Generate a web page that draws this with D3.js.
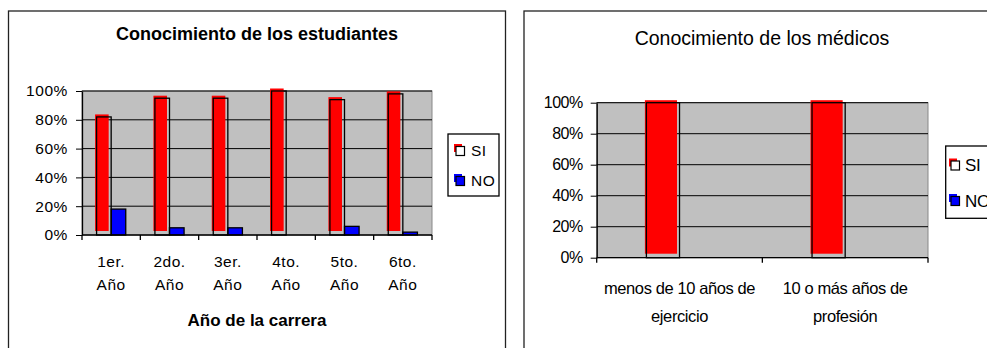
<!DOCTYPE html>
<html>
<head>
<meta charset="utf-8">
<script src="https://cdn.jsdelivr.net/npm/d3@7/dist/d3.min.js"></script>
<style>
body { margin: 0; background: #fff; }
svg { display: block; font-family: "Liberation Sans", Arial, sans-serif; }
.grid { stroke: #000; stroke-width: 1; }
.axis path, .axis line { stroke: #000; }
.axis text { fill: #000; }
</style>
</head>
<body>
<div id="chart"></div>
<script>
/*global d3*/

var series = ["SI", "NO"],
    colors = ["#ff0000", "#0000ff"],
    yTicks = [0, 0.2, 0.4, 0.6, 0.8, 1],

    // chart 1 : estudiantes
    anios = ["1er.|Año", "2do.|Año", "3er.|Año", "4to.|Año", "5to.|Año", "6to.|Año"],
    estudiantesSI = [0.82, 0.95, 0.95, 1.00, 0.94, 0.98],
    estudiantesNO = [0.18, 0.05, 0.05, 0.00, 0.06, 0.02],

    // chart 2 : medicos
    grupos = ["menos de 10 años de|ejercicio", "10 o más años de|profesión"],
    medicosSI = [1.00, 1.00],
    medicosNO = [0.00, 0.00],

    svg = d3.select("#chart")
        .append("svg")
        .attr("width", 987)
        .attr("height", 348);

function panel(o) {
    var g = svg.append("g"),
        x = d3.scaleBand()
            .domain(o.cats)
            .range([o.left, o.right]),
        y = d3.scaleLinear()
            .domain([0, 1])
            .range([o.bottom, o.top]),
        bw = x.bandwidth() * o.barFrac,
        rows = o.cats.map(function (c, i) {
            return {cat: c, values: [o.si[i], o.no[i]]};
        });

    // frame of the chart
    g.append("rect")
        .attr("x", o.box[0])
        .attr("y", o.box[1])
        .attr("width", o.box[2])
        .attr("height", o.box[3])
        .attr("fill", "#fff")
        .attr("stroke", "#222")
        .attr("stroke-width", 1.3);

    g.append("text")
        .attr("x", o.titleX)
        .attr("y", o.titleY)
        .attr("text-anchor", "middle")
        .attr("font-size", o.titleSize)
        .attr("font-weight", o.titleWeight)
        .text(o.title);

    // plot area
    g.append("rect")
        .attr("x", o.left)
        .attr("y", o.top)
        .attr("width", o.right - o.left)
        .attr("height", o.bottom - o.top)
        .attr("fill", "#c0c0c0")
        .attr("stroke", "#888");

    g.append("g").selectAll(".grid")
        .data(yTicks.slice(1))
        .enter().append("line")
        .attr("class", "grid")
        .attr("x1", o.left)
        .attr("x2", o.right)
        .attr("y1", function (d) { return y(d); })
        .attr("y2", function (d) { return y(d); });

    // bars: red fill drawn slightly shifted, as in the original export
    var grp = g.append("g").selectAll("g")
        .data(rows)
        .enter().append("g")
        .attr("transform", function (d) {
            return "translate(" + (x(d.cat) + (x.bandwidth() - 2 * bw) / 2) + ",0)";
        });
    grp.selectAll(".fill")
        .data(function (d) { return d.values; })
        .enter().append("rect")
        .attr("class", "fill")
        .attr("x", function (d, i) { return i * bw + (i === 0 ? -1.5 : 0); })
        .attr("y", function (d, i) { return i === 0 ? y(d) - 2.5 : y(d); })
        .attr("width", function (d, i) { return i === 0 ? bw - 1 : bw; })
        .attr("height", function (d, i) {
            return i === 0 ? Math.max(0, o.bottom - 4 - (y(d) - 2.5)) : o.bottom - y(d);
        })
        .attr("fill", function (d, i) { return colors[i]; });
    grp.selectAll(".edge")
        .data(function (d) { return d.values; })
        .enter().append("rect")
        .attr("class", "edge")
        .attr("x", function (d, i) { return i * bw; })
        .attr("y", function (d) { return y(d); })
        .attr("width", bw)
        .attr("height", function (d) { return o.bottom - y(d); })
        .attr("fill", "none")
        .attr("stroke", "#000")
        .attr("stroke-width", 1.3)
        .style("display", function (d) { return d > 0 ? null : "none"; });

    // y axis
    g.append("g")
        .attr("class", "axis")
        .attr("transform", "translate(" + o.left + ",0)")
        .call(d3.axisLeft(y)
            .tickValues(yTicks)
            .tickFormat(d3.format(".0%"))
            .tickSize(6)
            .tickSizeOuter(0)
            .tickPadding(o.tickPad))
        .call(function (a) {
            a.selectAll("text")
                .attr("font-size", o.tickSize)
                .attr("font-family", null)
                .attr("letter-spacing", o.tickSpacing);
            a.select(".domain").attr("stroke-width", 1.3);
        });

    // x axis with ticks between categories
    g.append("line")
        .attr("x1", o.left)
        .attr("x2", o.right)
        .attr("y1", o.bottom)
        .attr("y2", o.bottom)
        .attr("stroke", "#000")
        .attr("stroke-width", 1.3);
    g.append("g").selectAll("line")
        .data(o.cats.map(function (c) { return x(c); }).concat([o.right]))
        .enter().append("line")
        .attr("x1", function (d) { return d; })
        .attr("x2", function (d) { return d; })
        .attr("y1", o.bottom)
        .attr("y2", o.bottom + 5)
        .attr("stroke", "#000")
        .attr("stroke-width", 1.3);

    var lab = g.append("g").selectAll("text")
        .data(o.cats)
        .enter().append("text")
        .attr("text-anchor", "middle")
        .attr("font-size", o.catSize)
        .attr("letter-spacing", o.catSpacing);
    lab.selectAll("tspan")
        .data(function (d) {
            return d.split("|").map(function (t) { return {t: t, c: d}; });
        })
        .enter().append("tspan")
        .attr("x", function (d) { return x(d.c) + x.bandwidth() / 2; })
        .attr("y", function (d, i) { return o.catY[i]; })
        .text(function (d) { return d.t; });

    if (o.xTitle) {
        g.append("text")
            .attr("x", (o.left + o.right) / 2)
            .attr("y", o.xTitleY)
            .attr("text-anchor", "middle")
            .attr("font-size", 17)
            .attr("font-weight", "bold")
            .text(o.xTitle);
    }

    // legend
    g.append("rect")
        .attr("x", o.legend[0])
        .attr("y", o.legend[1])
        .attr("width", o.legend[2])
        .attr("height", o.legend[3])
        .attr("fill", "#fff")
        .attr("stroke", "#000")
        .attr("stroke-width", 1.3);
    var leg = g.append("g").selectAll("g")
        .data(series)
        .enter().append("g")
        .attr("transform", function (d, i) {
            return "translate(" + o.legendX + "," + o.legendY[i] + ")";
        });
    leg.append("rect")
        .attr("x", -2)
        .attr("y", -7)
        .attr("width", 8)
        .attr("height", 8)
        .attr("fill", function (d, i) { return colors[i]; });
    leg.append("rect")
        .attr("x", 0)
        .attr("y", -4.5)
        .attr("width", 8.5)
        .attr("height", 9)
        .attr("fill", function (d, i) { return i === 0 ? "#fff" : colors[i]; })
        .attr("stroke", "#000")
        .attr("stroke-width", 1.2);
    leg.append("text")
        .attr("x", o.legendTextDx)
        .attr("y", 0)
        .attr("dy", "0.35em")
        .attr("font-size", o.legendSize)
        .attr("letter-spacing", o.catSpacing)
        .text(function (d) { return d; });
}

panel({
    box: [8.5, 11, 497, 360],
    title: "Conocimiento de los estudiantes",
    titleX: 257, titleY: 40, titleSize: 18, titleWeight: "bold",
    cats: anios, si: estudiantesSI, no: estudiantesNO,
    left: 82, right: 432, top: 91, bottom: 235, barFrac: 0.25,
    tickSize: 15.5, tickPad: 8, tickSpacing: 0.6,
    catSize: 15.5, catSpacing: 0.5, catY: [267, 290],
    xTitle: "Año de la carrera", xTitleY: 326,
    legend: [448, 134, 51, 62], legendX: 456, legendY: [151, 181],
    legendTextDx: 15, legendSize: 15.5
});

panel({
    box: [524, 11, 480, 360],
    title: "Conocimiento de los médicos",
    titleX: 762, titleY: 45, titleSize: 19.5, titleWeight: "normal",
    cats: grupos, si: medicosSI, no: medicosNO,
    left: 596.7, right: 928, top: 102.7, bottom: 257.7, barFrac: 0.2,
    tickSize: 16, tickPad: 8, tickSpacing: -0.5,
    catSize: 16.5, catSpacing: -0.4, catY: [294, 322],
    xTitle: null,
    legend: [945.7, 146, 60, 72.3], legendX: 951, legendY: [165.5, 201],
    legendTextDx: 14, legendSize: 17
});
</script>
</body>
</html>
